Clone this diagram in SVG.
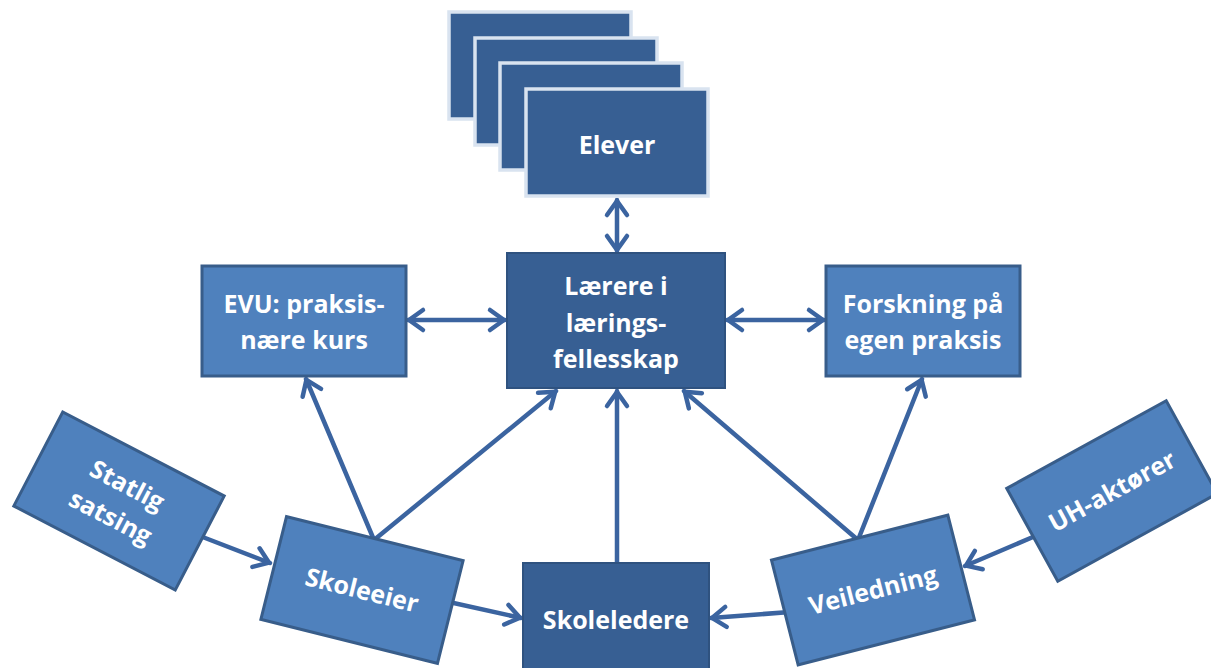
<svg xmlns="http://www.w3.org/2000/svg" width="1211" height="668" viewBox="0 0 1211 668">
  <style>
    .dark { fill: #375F93; stroke: #2F527F; stroke-width: 2; }
    .light { fill: #4F81BD; stroke: #385D8A; stroke-width: 3; }
    .stack { fill: #375F93; stroke: #D9E3F0; stroke-width: 3.5; }
    .lbl { font-family: "Open Sans", "Liberation Sans", sans-serif; font-weight: bold; font-size: 25px; fill: #FFFFFF; text-anchor: middle; }
    .conn { fill: none; stroke: #3B64A0; stroke-width: 4.5; stroke-linecap: round; }
  </style>
  <defs>
    <marker id="head" viewBox="-20 -15 24 30" refX="1" refY="0" markerWidth="24" markerHeight="30" markerUnits="userSpaceOnUse" orient="auto-start-reverse">
      <path d="M-14,-10 L0,0 L-14,10" fill="none" stroke="#3B64A0" stroke-width="4.5" stroke-linecap="round" stroke-linejoin="round"/>
    </marker>
  </defs>
  <rect width="1211" height="668" fill="#FFFFFF"/>

  <!-- connectors -->
  <g id="connectors">
    <line class="conn" x1="617" y1="200" x2="617" y2="251" marker-start="url(#head)" marker-end="url(#head)"/>
    <line class="conn" x1="408" y1="320" x2="505" y2="320" marker-start="url(#head)" marker-end="url(#head)"/>
    <line class="conn" x1="727" y1="320" x2="824" y2="320" marker-start="url(#head)" marker-end="url(#head)"/>
    <line class="conn" x1="374" y1="540" x2="306" y2="379" marker-end="url(#head)"/>
    <line class="conn" x1="374" y1="540" x2="556" y2="391" marker-end="url(#head)"/>
    <line class="conn" x1="617" y1="563" x2="617" y2="391" marker-end="url(#head)"/>
    <line class="conn" x1="858" y1="540" x2="684" y2="391" marker-end="url(#head)"/>
    <line class="conn" x1="858" y1="540" x2="922" y2="379" marker-end="url(#head)"/>
    <line class="conn" x1="200" y1="536" x2="270" y2="563" marker-end="url(#head)"/>
    <line class="conn" x1="440" y1="600" x2="521" y2="618" marker-end="url(#head)"/>
    <line class="conn" x1="790" y1="612" x2="711" y2="618" marker-end="url(#head)"/>
    <line class="conn" x1="1040" y1="534" x2="965" y2="566" marker-end="url(#head)"/>
  </g>

  <!-- pupils: stacked cards -->
  <g id="elever">
    <rect class="stack" x="449" y="12" width="182" height="107"/>
    <rect class="stack" x="475" y="38" width="182" height="107"/>
    <rect class="stack" x="500" y="63" width="182" height="107"/>
    <rect class="stack" x="526" y="89" width="182" height="107"/>
    <text class="lbl" x="617" y="154">Elever</text>
  </g>

  <g id="laerere">
    <rect class="dark" x="507" y="253" width="218" height="135"/>
    <text class="lbl" x="616" y="295">Lærere i</text>
    <text class="lbl" x="616" y="332">lærings-</text>
    <text class="lbl" x="616" y="368">fellesskap</text>
  </g>

  <g id="evu">
    <rect class="light" x="202" y="266" width="204" height="110"/>
    <text class="lbl" x="304" y="313">EVU: praksis-</text>
    <text class="lbl" x="304" y="349">nære kurs</text>
  </g>

  <g id="forskning">
    <rect class="light" x="826" y="266" width="194" height="110"/>
    <text class="lbl" x="923" y="313">Forskning på</text>
    <text class="lbl" x="923" y="349">egen praksis</text>
  </g>

  <g id="skoleledere">
    <rect class="dark" x="523" y="563" width="186" height="120"/>
    <text class="lbl" x="616" y="629">Skoleledere</text>
  </g>

  <g id="statlig" transform="translate(119,501) rotate(27.5)">
    <rect class="light" x="-91" y="-53" width="182" height="106"/>
    <text class="lbl" x="0" y="-9">Statlig</text>
    <text class="lbl" x="0" y="27">satsing</text>
  </g>

  <g id="skoleeier" transform="translate(362,590) rotate(14)">
    <rect class="light" x="-91" y="-53" width="182" height="106"/>
    <text class="lbl" x="0" y="9">Skoleeier</text>
  </g>

  <g id="veiledning" transform="translate(873,590) rotate(-14.3)">
    <rect class="light" x="-91" y="-54" width="182" height="108"/>
    <text class="lbl" x="0" y="9">Veiledning</text>
  </g>

  <g id="uh" transform="translate(1112,491) rotate(-28.8)">
    <rect class="light" x="-91" y="-53" width="182" height="106"/>
    <text class="lbl" x="0" y="9">UH-aktører</text>
  </g>
</svg>
